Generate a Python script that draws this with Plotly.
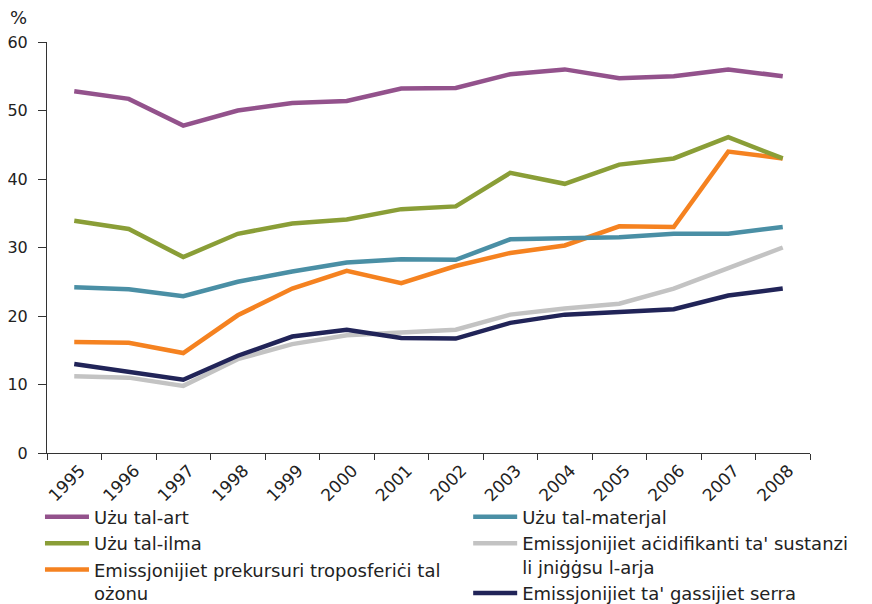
import plotly.graph_objects as go

years = [str(y) for y in range(1995, 2009)]

uzu_art = [52.8, 51.7, 47.8, 50.0, 51.1, 51.4, 53.2, 53.3, 55.3, 56.0, 54.7, 55.0, 56.0, 55.0]
uzu_materjal = [24.2, 23.9, 22.9, 25.0, 26.5, 27.8, 28.3, 28.2, 31.2, 31.3, 31.5, 32.0, 32.0, 33.0]
uzu_ilma = [33.9, 32.7, 28.6, 32.0, 33.5, 34.1, 35.6, 36.0, 40.9, 39.3, 42.1, 43.0, 46.1, 43.0]
acidifikanti = [11.2, 11.0, 9.8, 13.7, 15.9, 17.2, 17.6, 18.0, 20.2, 21.1, 21.8, 24.0, 27.0, 30.0]
ozonu = [16.2, 16.1, 14.6, 20.1, 24.0, 26.6, 24.8, 27.3, 29.2, 30.3, 33.1, 33.0, 44.0, 43.0]
serra = [13.0, 11.9, 10.7, 14.2, 17.0, 18.0, 16.8, 16.7, 19.0, 20.2, 20.6, 21.0, 23.0, 24.0]

names = {
    "art": "Użu tal-art",
    "materjal": "Użu tal-materjal",
    "ilma": "Użu tal-ilma",
    "acid": "Emissjonijiet aċidifikanti ta' sustanzi<br>li jniġġsu l-arja",
    "ozonu": "Emissjonijiet prekursuri troposferiċi tal<br>ożonu",
    "serra": "Emissjonijiet ta' gassijiet serra",
}

colors = {
    "art": "#93528C",
    "materjal": "#4A8FA5",
    "ilma": "#8A9E37",
    "acid": "#C3C3C3",
    "ozonu": "#F58220",
    "serra": "#212458",
}

fig = go.Figure()

# (key, values, legend, rank, legend group)
series = [
    ("acid", acidifikanti, "legend2", 2, None),
    ("serra", serra, "legend2", 3, None),
    ("ozonu", ozonu, "legend", 3, "b"),
    ("materjal", uzu_materjal, "legend2", 1, None),
    ("ilma", uzu_ilma, "legend", 2, "a"),
    ("art", uzu_art, "legend", 1, "a"),
]
for key, vals, leg, rank, grp in series:
    fig.add_trace(go.Scatter(
        x=years, y=vals, mode="lines", name=names[key],
        line=dict(color=colors[key], width=4.5),
        legend=leg, legendrank=rank, legendgroup=grp,
    ))

axis_color = "#333333"
legend_font = dict(family="DejaVu Sans, Verdana, sans-serif", size=18, color="#222222")
fig.update_layout(
    width=864, height=596,
    margin=dict(l=39, r=62, t=34, b=151, autoexpand=False),
    paper_bgcolor="white", plot_bgcolor="white",
    font=dict(family="DejaVu Sans, Verdana, sans-serif", size=16, color="#222222"),
    showlegend=True,
    legend=dict(
        x=-0.0092, y=-0.1110, xanchor="left", yanchor="top",
        orientation="v", itemwidth=44, tracegroupgap=0, valign="top",
        font=legend_font, bgcolor="rgba(0,0,0,0)",
    ),
    legend2=dict(
        x=0.552, y=-0.1110, xanchor="left", yanchor="top",
        orientation="v", itemwidth=44, tracegroupgap=0, valign="top",
        font=legend_font, bgcolor="rgba(0,0,0,0)",
    ),
    xaxis=dict(
        type="category", range=[-0.5, 13.5], autorange=False,
        tickangle=-45, tickson="boundaries",
        ticks="outside", ticklen=6, tickcolor=axis_color,
        showline=True, linecolor=axis_color, linewidth=1,
        showgrid=False, zeroline=False, automargin=False,
        tickfont=dict(size=17), ticklabelshift=6,
    ),
    yaxis=dict(
        range=[0, 60], autorange=False, dtick=10, ticks="outside", ticklen=8, tickcolor=axis_color,
        showline=True, linecolor=axis_color, linewidth=1,
        showgrid=False, zeroline=False, automargin=False,
        tickfont=dict(size=16), ticklabelstandoff=7,
    ),
)
fig.add_annotation(text="%", xref="paper", yref="paper", x=-0.0511, y=1.029,
                   xanchor="left", yanchor="bottom", showarrow=False,
                   font=dict(size=18))

fig.write_html("out.html")
